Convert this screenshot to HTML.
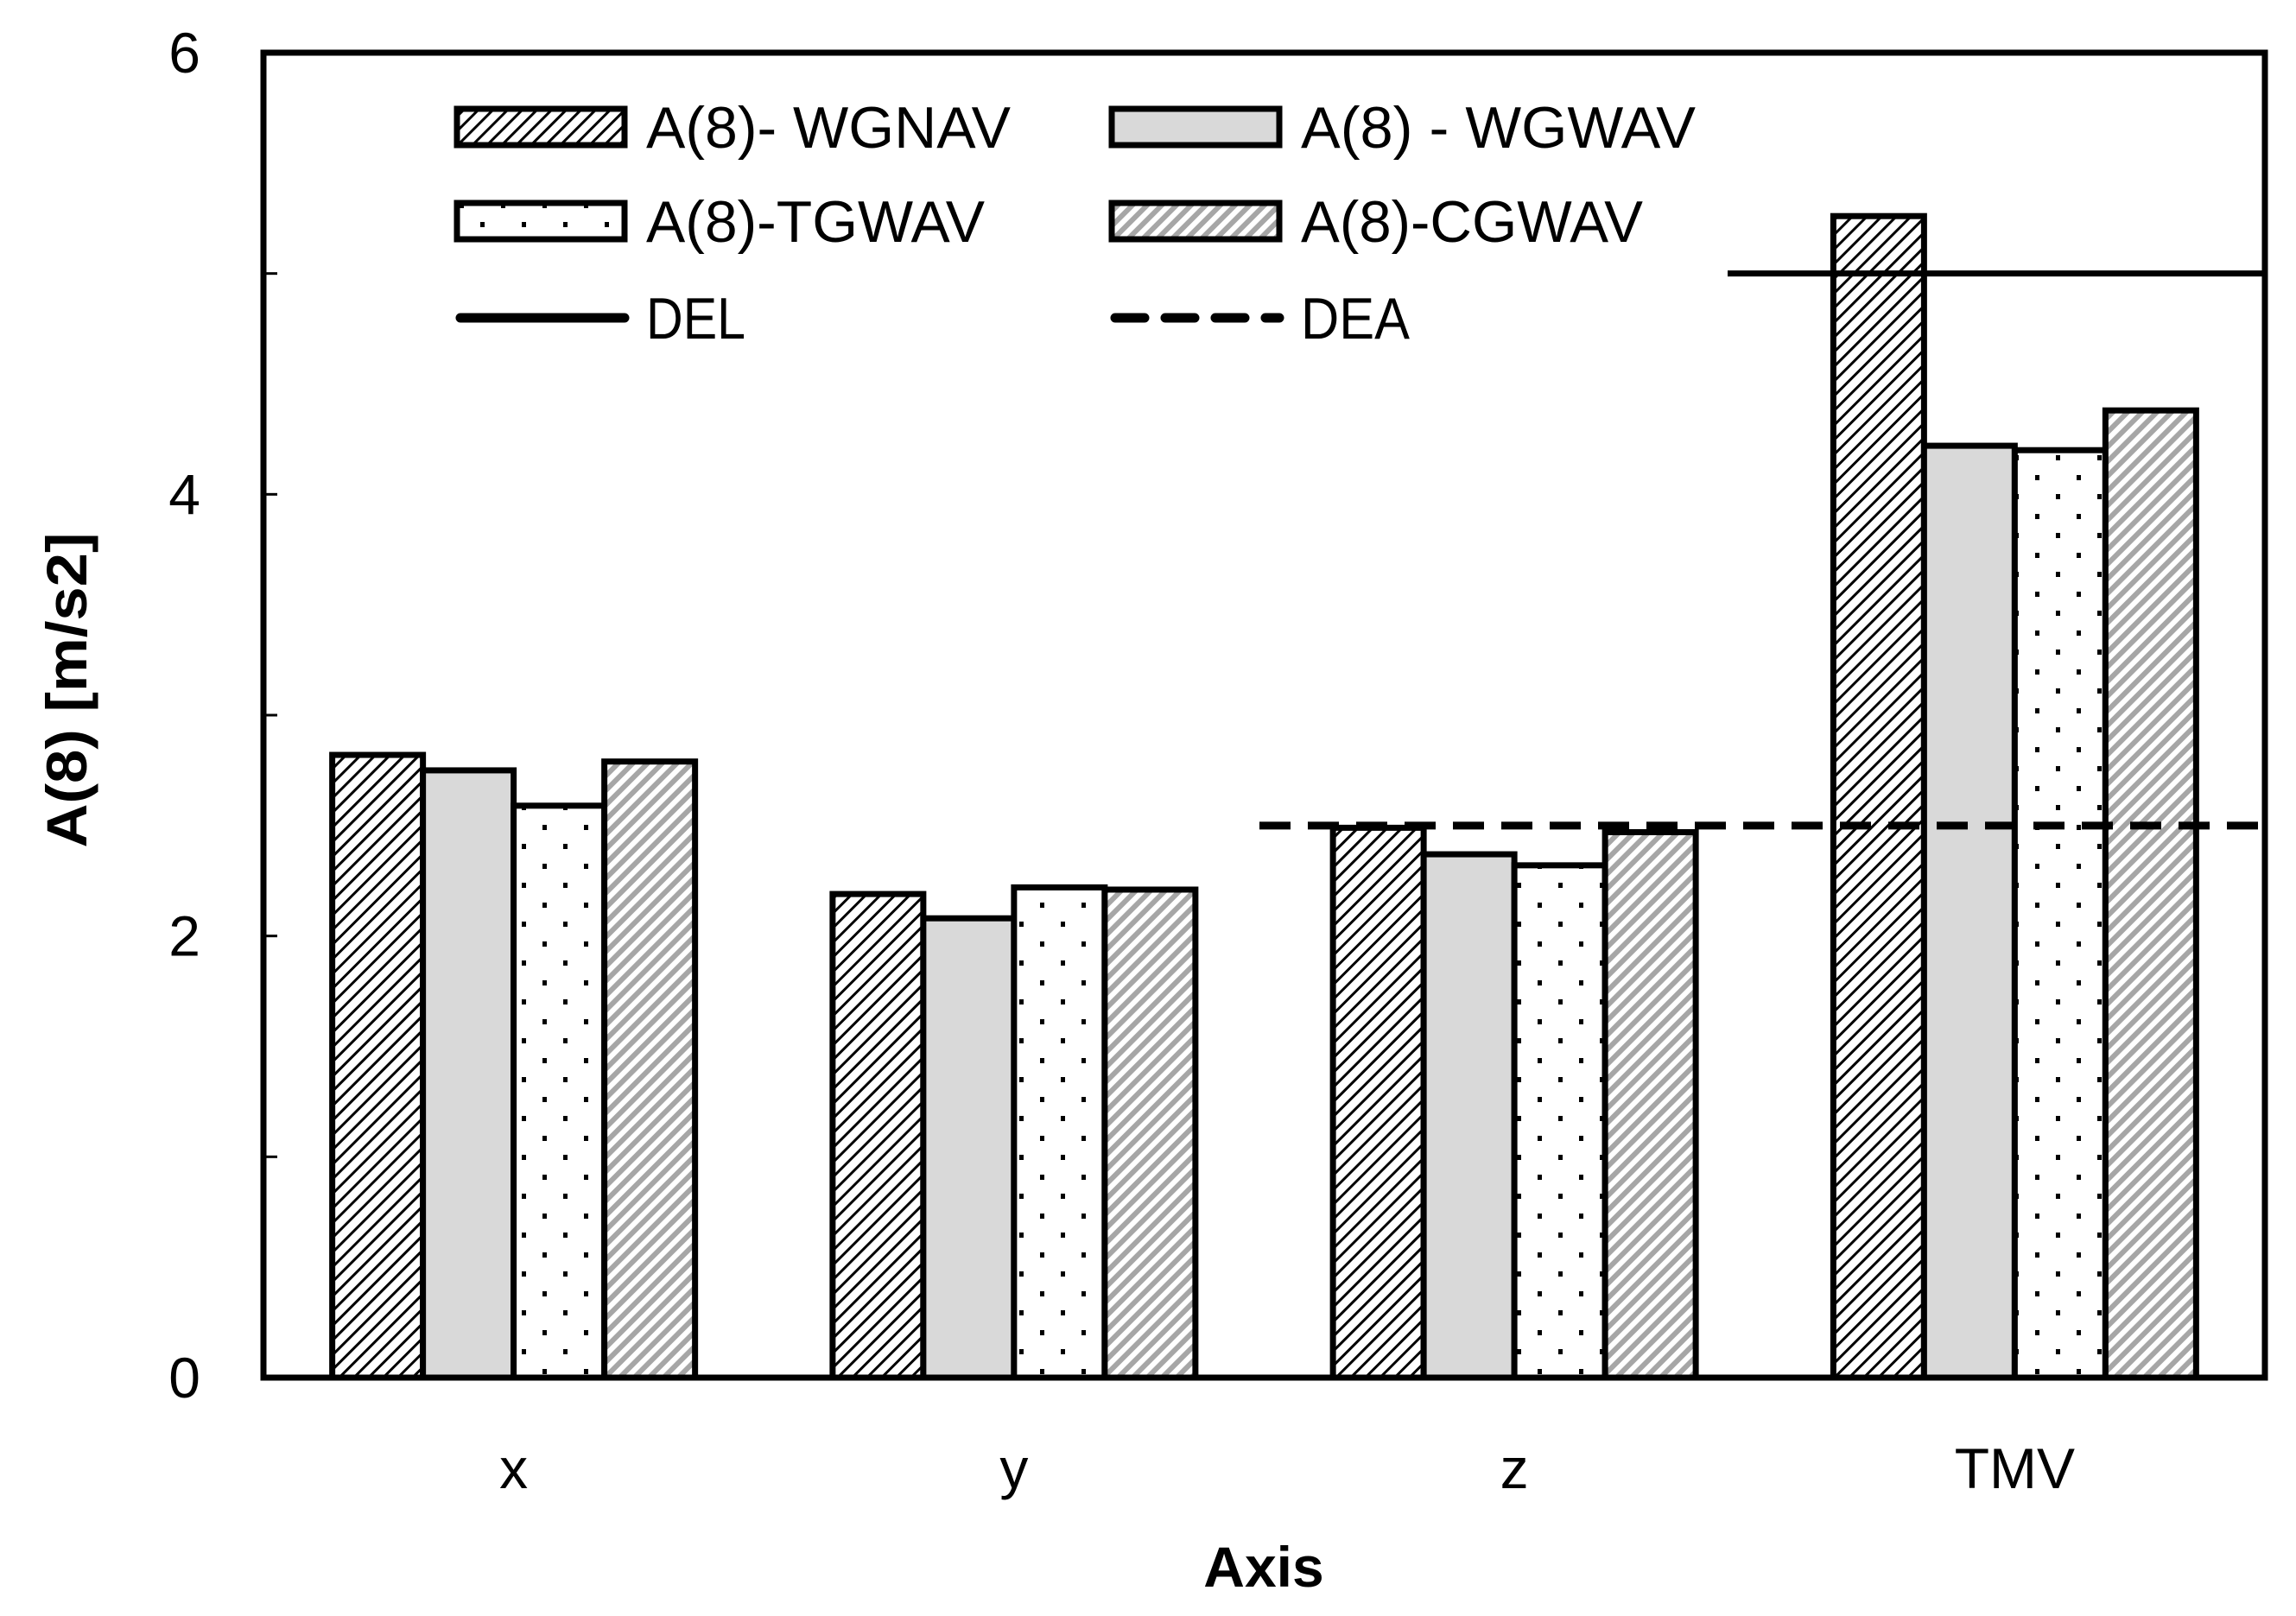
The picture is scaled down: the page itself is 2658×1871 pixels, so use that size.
<!DOCTYPE html>
<html><head><meta charset="utf-8"><style>
html,body{margin:0;padding:0;background:#fff;}
svg{display:block;}
text{font-family:"Liberation Sans",sans-serif;fill:#000;}
</style></head><body>
<svg id="chart" width="2658" height="1871" viewBox="0 0 2658 1871">
<defs>
<pattern id="pWGNAV" width="12" height="12" patternUnits="userSpaceOnUse" patternTransform="rotate(45)">
<rect width="12" height="12" fill="#fff"/><rect x="0" y="0" width="3" height="12" fill="#000"/></pattern>
<pattern id="pCGWAV" width="12" height="12" patternUnits="userSpaceOnUse" patternTransform="rotate(45)">
<rect width="12" height="12" fill="#fff"/><rect x="0" y="0" width="6" height="12" fill="#a6a6a6"/></pattern>
<pattern id="pTGWAV" width="48" height="45" patternUnits="userSpaceOnUse">
<rect width="48" height="45" fill="#fff"/><rect x="4" y="10" width="5" height="6" fill="#000"/><rect x="28" y="32" width="5" height="6" fill="#000"/></pattern>
</defs>
<g id="plot"></g>
</svg>
<script>
const categories = ["x","y","z","TMV"];
const seriesNames = ["A(8)- WGNAV","A(8) - WGWAV","A(8)-TGWAV","A(8)-CGWAV"];
const WGNAV = [2.82,2.19,2.49,5.26];
const WGWAV = [2.75,2.08,2.37,4.22];
const TGWAV = [2.59,2.22,2.32,4.20];
const CGWAV = [2.79,2.21,2.47,4.38];
const yTicks = [0,1,2,3,4,5,6];
const yTickLabels = ["0","","2","","4","","6"];
const DEL = 5.0;
const DEA = 2.5;

const series=[WGNAV,WGWAV,TGWAV,CGWAV];
const fills=["url(#pWGNAV)","#d9d9d9","url(#pTGWAV)","url(#pCGWAV)"];
const keys=["wgnav","wgwav","tgwav","cgwav"];
const L=305,R=2622,T=61,B=1595,ymax=6;
const ys=v=>B-(v/ymax)*(B-T);
const gw=(R-L)/categories.length, bw=105;
const xs=(i,j)=>L+gw*(i+0.5)-bw*2+bw*j;
const NS="http://www.w3.org/2000/svg";
const g=document.getElementById('plot');
function mk(tag,attrs,parent){const e=document.createElementNS(NS,tag);for(const k in attrs)e.setAttribute(k,attrs[k]);(parent||g).appendChild(e);return e;}

categories.forEach((c,i)=>{
  series.forEach((s,j)=>{
    const r=mk('rect',{x:xs(i,j),y:ys(s[i]),width:bw,height:B-ys(s[i]),fill:fills[j],stroke:'#000','stroke-width':7});
    
    
  });
  const t=mk('text',{x:L+gw*(i+0.5),y:1723,'text-anchor':'middle','font-size':66});
  t.textContent=c;
  
  
});
const del=mk('line',{x1:2000,x2:R,y1:ys(DEL),y2:ys(DEL),stroke:'#000','stroke-width':7});


const dea=mk('line',{x1:1458,x2:R,y1:ys(DEA),y2:ys(DEA),stroke:'#000','stroke-width':9,'stroke-dasharray':'36 20'});


const fr=mk('rect',{x:L,y:T,width:R-L,height:B-T,fill:'none',stroke:'#000','stroke-width':7});


yTicks.forEach((v,k)=>{
  const tk=mk('line',{x1:L,x2:L+16,y1:ys(v),y2:ys(v),stroke:'#000','stroke-width':3});
  
  
  if(yTickLabels[k]){
    const t=mk('text',{x:232,y:ys(v)+23,'text-anchor':'end','font-size':66});
    t.textContent=yTickLabels[k];
    
    
  }
});
const xt=mk('text',{x:1463,y:1837,'text-anchor':'middle','font-size':66,'font-weight':'bold'});
xt.textContent='Axis';


const yt=mk('text',{x:0,y:0,'text-anchor':'middle','font-size':66,'font-weight':'bold',textLength:365,lengthAdjust:'spacingAndGlyphs',transform:'translate(100,799) rotate(-90)'});
yt.textContent='A(8) [m/s2]';


const lg=mk('g',{});


const legendItems=[
 {name:seriesNames[0],fill:fills[0],col:0,row:0,k:'wgnav',w:422},
 {name:seriesNames[1],fill:fills[1],col:1,row:0,k:'wgwav',w:457},
 {name:seriesNames[2],fill:fills[2],col:0,row:1,k:'tgwav',w:392},
 {name:seriesNames[3],fill:fills[3],col:1,row:1,k:'cgwav',w:396},
 {name:'DEL',line:'solid',col:0,row:2,k:'del',w:115},
 {name:'DEA',line:'dash',col:1,row:2,k:'dea',w:126}];
const rowsY=[147,256,368], colX=[529,1287];
legendItems.forEach(it=>{
  const ge=mk('g',{},lg);
  
  
  const x=colX[it.col], y=rowsY[it.row];
  if(it.line){
    mk('line',{x1:x+4,x2:x+194,y1:y,y2:y,stroke:'#000','stroke-width':11,'stroke-linecap':'round','stroke-dasharray':it.line==='dash'?'34 24':'none'},ge);
  } else {
    mk('rect',{x:x,y:y-21,width:194,height:42,fill:it.fill,stroke:'#000','stroke-width':7},ge);
  }
  const t=mk('text',{x:x+219,y:y+24,'font-size':68,textLength:it.w,lengthAdjust:'spacingAndGlyphs'},ge);
  t.textContent=it.name;
});
</script>
</body></html>
